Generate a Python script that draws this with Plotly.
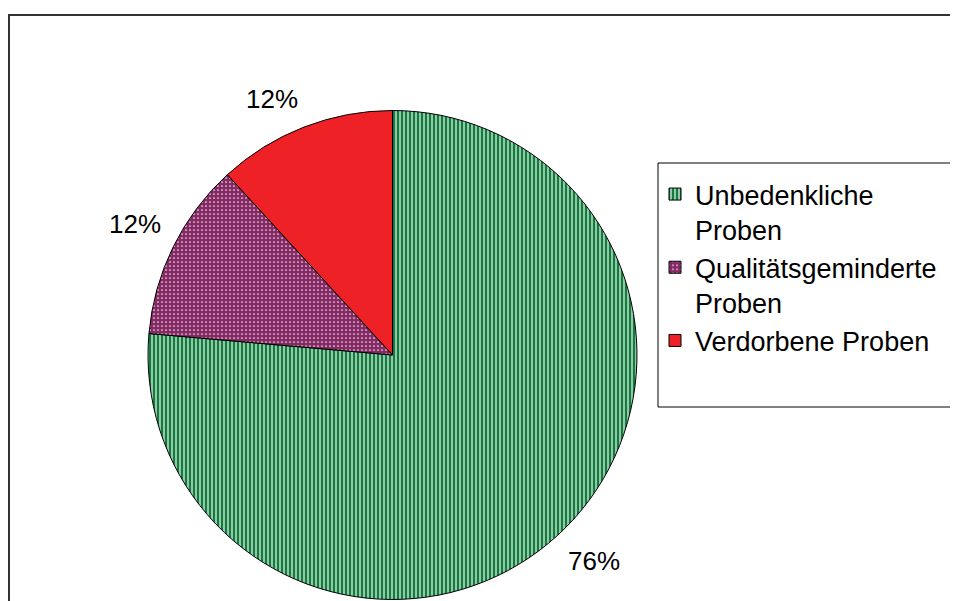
import math
import plotly.graph_objects as go

labels = ["Unbedenkliche<br>Proben", "Qualitätsgeminderte<br>Proben", "Verdorbene Proben"]
values = [76.4, 11.8, 11.8]
pct_labels = ["76%", "12%", "12%"]
fg_colors = ["#117d3d", "#f4e6ef", "#ee2226"]
bg_colors = ["#ffffff", "#862a65", "#ee2226"]
shapes_pat = ["|", ".", ""]
solidity = [0.72, 0.14, 0.5]

# page body has an 8px margin; figure sized to fit the window
W, H = 950, 593
FONT = "Liberation Sans, Arial"

# pie geometry in figure pixels
cx, cy, r = 384.5, 347.0, 244.5

fig = go.Figure(go.Pie(
    labels=labels,
    values=values,
    sort=False,
    direction="clockwise",
    rotation=0,
    textinfo="none",
    marker=dict(
        colors=bg_colors,
        line=dict(color="black", width=1),
        pattern=dict(shape=shapes_pat, fgcolor=fg_colors, bgcolor=bg_colors,
                     size=4, solidity=solidity, fillmode="replace"),
    ),
    domain=dict(x=[(cx - r) / W, (cx + r) / W], y=[1 - (cy + r) / H, 1 - (cy - r) / H]),
    hoverinfo="label+percent",
    showlegend=True,
))

# percentage labels just outside each slice, anchored by the corner facing the pie
total = sum(values)
annotations = []
cum = 0.0
d = r + 12
for v, t in zip(values, pct_labels):
    mid = (cum + v / 2) / total * 2 * math.pi
    cum += v
    s, c = math.sin(mid), math.cos(mid)
    px = cx + d * s
    py = cy - d * c
    annotations.append(dict(
        x=px / W, y=1 - py / H, xref="paper", yref="paper",
        text=t, showarrow=False,
        xanchor="left" if s > 0 else "right",
        yanchor="top" if c < 0 else "bottom",
        font=dict(family=FONT, size=26, color="black"),
    ))

fig.update_layout(
    width=W, height=H,
    margin=dict(l=0, r=0, t=0, b=0),
    paper_bgcolor="white",
    plot_bgcolor="white",
    font=dict(family=FONT, size=27, color="black"),
    legend=dict(
        x=647 / W, y=1 - 162 / H, xanchor="left", yanchor="top",
        borderwidth=0, bgcolor="rgba(0,0,0,0)", valign="top",
        font=dict(family=FONT, size=27, color="black"),
    ),
    annotations=annotations,
    shapes=[
        dict(type="rect", xref="paper", yref="paper",
             x0=1 / W, x1=1.05, y0=-0.05, y1=1 - 7 / H,
             line=dict(color="#333333", width=2), fillcolor="rgba(0,0,0,0)", layer="below"),
        dict(type="rect", xref="paper", yref="paper",
             x0=650 / W, x1=945 / W, y0=1 - 399 / H, y1=1 - 155 / H,
             line=dict(color="black", width=1), fillcolor="rgba(0,0,0,0)"),
    ],
)

fig.write_html("out.html")
